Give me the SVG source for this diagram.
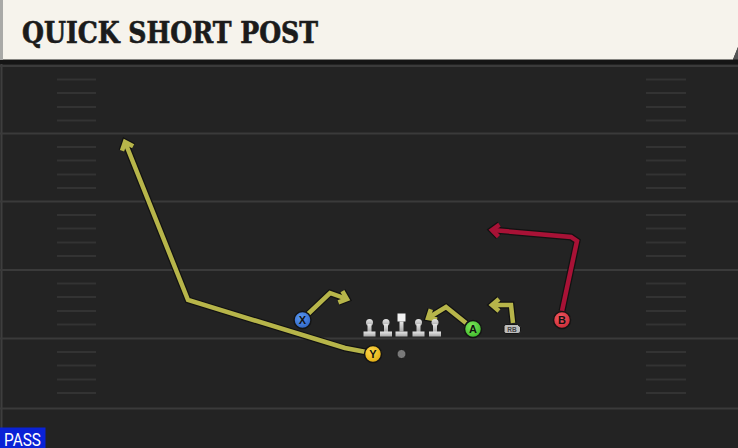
<svg xmlns="http://www.w3.org/2000/svg" width="738" height="448" viewBox="0 0 738 448">
<style>
.yard{stroke:#3a3a3a;stroke-width:2}
.hash{stroke:#333333;stroke-width:2}
.rt-out{fill:none;stroke:#121212;stroke-width:7;stroke-linejoin:miter;stroke-linecap:butt}
.rt-y{fill:none;stroke:#b7b54a;stroke-width:4.5;stroke-linejoin:miter;stroke-linecap:butt}
.rt-r{fill:none;stroke:#a81236;stroke-width:4.5;stroke-linejoin:miter;stroke-linecap:butt}
.pl{stroke:#141414;stroke-width:1.5}
.lbl{font-family:"Liberation Sans",Arial,sans-serif;font-weight:bold;font-size:11px;fill:#111;text-anchor:middle}
.lm{fill:url(#lmGrad)}
</style>
<defs>
<linearGradient id="lmGrad" x1="0" y1="0" x2="0" y2="1">
<stop offset="0" stop-color="#e6e6e6"/>
<stop offset="1" stop-color="#a8a8a8"/>
</linearGradient>
<radialGradient id="gX" cx="0.4" cy="0.35" r="0.7"><stop offset="0" stop-color="#5b98f0"/><stop offset="1" stop-color="#2d63c4"/></radialGradient>
<radialGradient id="gY" cx="0.4" cy="0.35" r="0.7"><stop offset="0" stop-color="#ffd84a"/><stop offset="1" stop-color="#e0aa10"/></radialGradient>
<radialGradient id="gA" cx="0.4" cy="0.35" r="0.7"><stop offset="0" stop-color="#7ee85a"/><stop offset="1" stop-color="#3cb82a"/></radialGradient>
<radialGradient id="gB" cx="0.4" cy="0.35" r="0.7"><stop offset="0" stop-color="#f25a62"/><stop offset="1" stop-color="#c82834"/></radialGradient>
<marker id="ahOut" markerUnits="userSpaceOnUse" markerWidth="20" markerHeight="20" refX="0" refY="0" orient="auto" overflow="visible">
<path d="M-7,-6 L0,0 L-7,6" fill="none" stroke="#121212" stroke-width="7" stroke-linejoin="miter"/>
</marker>
<marker id="ahY" markerUnits="userSpaceOnUse" markerWidth="20" markerHeight="20" refX="0" refY="0" orient="auto" overflow="visible">
<path d="M-7,-6 L0,0 L-7,6" fill="none" stroke="#b7b54a" stroke-width="4.5" stroke-linejoin="miter"/>
</marker>
<marker id="ahR" markerUnits="userSpaceOnUse" markerWidth="20" markerHeight="20" refX="0" refY="0" orient="auto" overflow="visible">
<path d="M-7,-6 L0,0 L-7,6" fill="none" stroke="#a81236" stroke-width="4.5" stroke-linejoin="miter"/>
</marker>
</defs>

<!-- field -->
<rect x="0" y="0" width="738" height="448" fill="#232323"/>
<line x1="1.5" y1="60" x2="1.5" y2="448" stroke="#3e3e3e" stroke-width="2"/>
<g id="yardlines">
<line class="yard" x1="0" y1="66" x2="738" y2="66"/>
<line class="yard" x1="0" y1="133.5" x2="738" y2="133.5"/>
<line class="yard" x1="0" y1="201.5" x2="738" y2="201.5"/>
<line class="yard" x1="0" y1="270" x2="738" y2="270"/>
<line class="yard" x1="0" y1="338.5" x2="738" y2="338.5"/>
<line class="yard" x1="0" y1="408.5" x2="738" y2="408.5"/>
</g>
<g id="hashes">
<path class="hash" d="M57,79.5H96M57,93H96M57,107H96M57,120.5H96
M57,147H96M57,160.5H96M57,174.5H96M57,188H96
M57,215H96M57,228.5H96M57,242.5H96M57,256H96
M57,283.5H96M57,297H96M57,311H96M57,324.5H96
M57,352H96M57,365.5H96M57,379.5H96M57,393H96"/>
<path class="hash" d="M646,79.5H686M646,93H686M646,107H686M646,120.5H686
M646,147H686M646,160.5H686M646,174.5H686M646,188H686
M646,215H686M646,228.5H686M646,242.5H686M646,256H686
M646,283.5H686M646,297H686M646,311H686M646,324.5H686
M646,352H686M646,365.5H686M646,379.5H686M646,393H686"/>
</g>

<!-- header -->
<g id="header">
<rect x="0" y="59" width="738" height="5" fill="#151515"/>
<path d="M3,0 H738 V47 L733,59.5 H3 Z" fill="#f6f3ec"/>
<path d="M738,47 L733,59.5 L738,59.5 Z" fill="#555"/>
<rect x="0" y="0" width="3" height="60" fill="#a9a9a7"/>
<text x="22" y="43" font-family="'DejaVu Serif',serif" font-weight="bold" font-stretch="condensed" font-size="29" fill="#1b1b1b" stroke="#1b1b1b" stroke-width="0.6" textLength="296" lengthAdjust="spacingAndGlyphs">QUICK SHORT POST</text>
</g>

<!-- routes -->
<g id="connectors">
<path class="rt-out" marker-end="url(#ahOut)" d="M366,352 L345,348 L188,300 L125,142"/>
<path class="rt-out" marker-end="url(#ahOut)" d="M308,314 L330,293 L347,299"/>
<path class="rt-out" marker-end="url(#ahOut)" d="M466,323 L446,307 L428,318"/>
<path class="rt-out" marker-end="url(#ahOut)" d="M513,323 L511,305 L492,305"/>
<path class="rt-out" marker-end="url(#ahOut)" d="M562,311 L577,241 L571,237 L492,230"/>
<path class="rt-y" marker-end="url(#ahY)" d="M366,352 L345,348 L188,300 L125,142"/>
<path class="rt-y" marker-end="url(#ahY)" d="M308,314 L330,293 L347,299"/>
<path class="rt-y" marker-end="url(#ahY)" d="M466,323 L446,307 L428,318"/>
<path class="rt-y" marker-end="url(#ahY)" d="M513,323 L511,305 L492,305"/>
<path class="rt-r" marker-end="url(#ahR)" d="M562,311 L577,241 L571,237 L492,230"/>
</g>

<!-- linemen -->
<g id="LT"><circle class="lm" cx="369.5" cy="322.5" r="3.5"/><rect class="lm" x="367.5" y="324" width="4" height="8"/><rect class="lm" x="363.5" y="331.5" width="12" height="5"/></g>
<g id="LG"><circle class="lm" cx="386" cy="322.5" r="3.5"/><rect class="lm" x="384" y="324" width="4" height="8"/><rect class="lm" x="380" y="331.5" width="12" height="5"/></g>
<g id="C"><rect x="397.5" y="313.5" width="8" height="8" fill="#f2f2f2"/><rect class="lm" x="399.5" y="321.5" width="4" height="10"/><rect class="lm" x="395.5" y="331.5" width="12" height="5"/></g>
<g id="RG"><circle class="lm" cx="418.5" cy="322.5" r="3.5"/><rect class="lm" x="416.5" y="324" width="4" height="8"/><rect class="lm" x="412.5" y="331.5" width="12" height="5"/></g>
<g id="RT"><circle class="lm" cx="435" cy="322.5" r="3.5"/><rect class="lm" x="433" y="324" width="4" height="8"/><rect class="lm" x="429" y="331.5" width="12" height="5"/></g>

<!-- ball -->
<g id="ball"><circle cx="401.5" cy="354" r="4.5" fill="#7a7a7a" stroke="#1a1a1a" stroke-width="1"/></g>

<!-- skill players -->
<g id="X"><circle class="pl" cx="302.5" cy="320" r="8.5" fill="url(#gX)"/><text class="lbl" x="302.5" y="324">X</text></g>
<g id="Y"><circle class="pl" cx="373" cy="354" r="8.5" fill="url(#gY)"/><text class="lbl" x="373" y="358">Y</text></g>
<g id="A"><circle class="pl" cx="473" cy="329" r="8.5" fill="url(#gA)"/><text class="lbl" x="473" y="333">A</text></g>
<g id="B"><circle class="pl" cx="562" cy="320" r="8.5" fill="url(#gB)"/><text class="lbl" x="562" y="324">B</text></g>
<g id="RB"><path d="M506,324.5 H517.5 L520.5,327 V331 Q520.5,333.5 518,333.5 H506 Q504,333.5 504,331.5 V326.5 Q504,324.5 506,324.5 Z" fill="#bdbdbd" stroke="#141414" stroke-width="1"/><text x="512" y="331.8" font-family="'Liberation Sans',Arial,sans-serif" font-weight="bold" font-size="6.5" fill="#444" text-anchor="middle">RB</text></g>

<!-- pass tag -->
<g id="pass">
<rect x="0" y="427.5" width="45.5" height="20.5" fill="#0a22d6"/>
<text x="4" y="445.5" font-family="Roboto,'Liberation Sans',sans-serif" font-size="17.5" fill="#ffffff" textLength="37" lengthAdjust="spacingAndGlyphs">PASS</text>
</g>
</svg>
